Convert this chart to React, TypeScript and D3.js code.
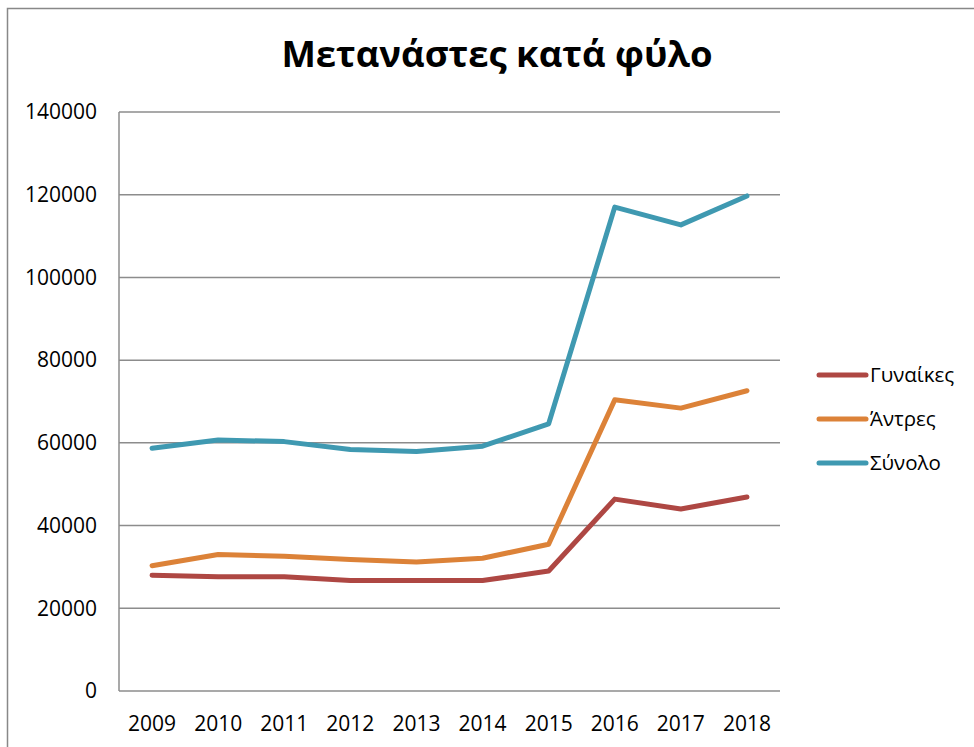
import * as d3 from "d3";

const years = ["2009", "2010", "2011", "2012", "2013", "2014", "2015", "2016", "2017", "2018"];
const women = [28000, 27600, 27600, 26700, 26700, 26700, 29000, 46400, 44000, 46900];
const men = [30300, 33000, 32600, 31800, 31200, 32100, 35500, 70400, 68400, 72600];
const total = [58700, 60700, 60300, 58400, 57900, 59200, 64600, 117000, 112700, 119700];
const seriesNames = ["Γυναίκες", "Άντρες", "Σύνολο"];
const seriesColors = ["#AE4743", "#DC8238", "#3F99B1"];
const yTicks = [0, 20000, 40000, 60000, 80000, 100000, 120000, 140000];

const W = 974;
const H = 747;
const plot = { left: 119, right: 780, top: 112, bottom: 691 };
const font = "'Open Sans', sans-serif";

export default function App() {
  const x = d3.scaleBand().domain(years).range([plot.left, plot.right]);
  const y = d3.scaleLinear().domain([0, 140000]).range([plot.bottom, plot.top]);

  const line = d3
    .line<number>()
    .x((_, i) => x(years[i])! + x.bandwidth() / 2)
    .y((d) => y(d));

  const allSeries = [women, men, total];

  return (
    <svg
      width={W}
      height={H}
      style={{ position: "absolute", left: 0, top: 0, background: "#fff" }}
      fontFamily={font}
    >
      {/* chart frame, cut off at right and bottom */}
      <rect x={7.5} y={8.5} width={1000} height={800} fill="#fff" stroke="#888" strokeWidth={1.5} />

      <text x={497} y={67} textAnchor="middle" fontSize={36.5} fontWeight="bold" fill="#000">
        Μετανάστες κατά φύλο
      </text>

      {/* gridlines */}
      {yTicks.map((t) => (
        <line
          key={t}
          x1={plot.left}
          x2={plot.right}
          y1={y(t)}
          y2={y(t)}
          stroke="#8c8c8c"
          strokeWidth={1.5}
        />
      ))}
      <line x1={plot.left} x2={plot.left} y1={plot.top} y2={plot.bottom} stroke="#8c8c8c" strokeWidth={1.5} />

      {yTicks.map((t) => (
        <text key={t} x={97} y={y(t)} dy="0.35em" textAnchor="end" fontSize={21} fill="#000">
          {t}
        </text>
      ))}

      {years.map((yr) => (
        <text key={yr} x={x(yr)! + x.bandwidth() / 2} y={731} textAnchor="middle" fontSize={21} fill="#000">
          {yr}
        </text>
      ))}

      {allSeries.map((s, i) => (
        <path
          key={seriesNames[i]}
          d={line(s)!}
          fill="none"
          stroke={seriesColors[i]}
          strokeWidth={5}
          strokeLinecap="round"
          strokeLinejoin="round"
        />
      ))}

      {/* legend */}
      {seriesNames.map((name, i) => {
        const ly = 375 + i * 44;
        return (
          <g key={name}>
            <line x1={819} x2={866} y1={ly} y2={ly} stroke={seriesColors[i]} strokeWidth={5} strokeLinecap="round" />
            <text x={870} y={ly} dy="0.35em" fontSize={20.5} fill="#000">
              {name}
            </text>
          </g>
        );
      })}
    </svg>
  );
}
